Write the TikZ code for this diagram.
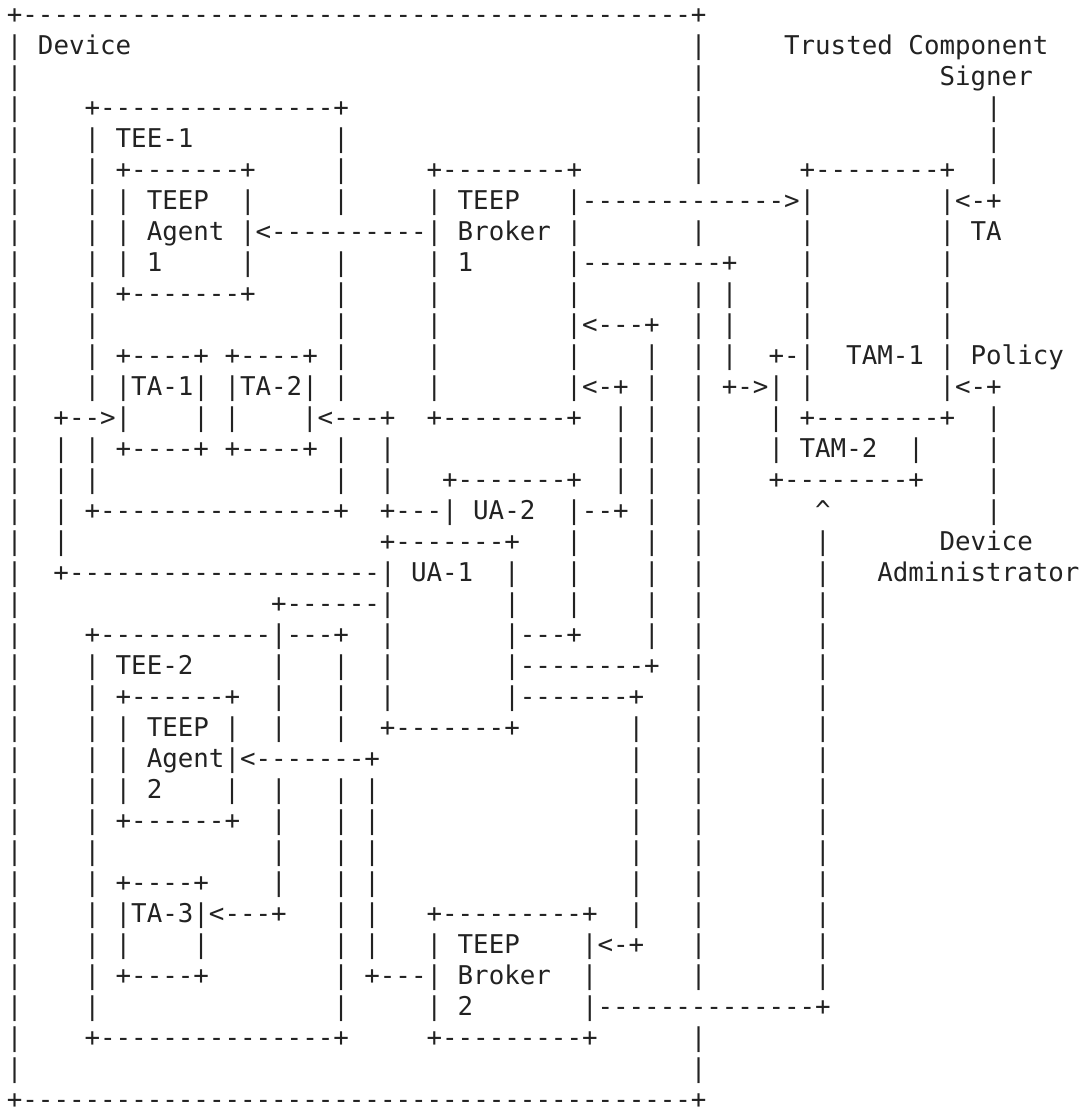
\documentclass[tikz,border=0pt]{standalone}
\usepackage{fontspec}
\setmonofont{DejaVu Sans Mono}
\definecolor{artink}{HTML}{222222}
\newlength\colw
\setlength\colw{7.8pt}
\newcommand\artfont{\ttfamily\fontsize{12.96}{15.6}\selectfont}
\newcommand\atcol[2]{\rlap{\hskip#1\colw\relax#2}}
\newcommand\dashrun[1]{\foreach\k in {1,...,#1}{-}}
\tikzset{artrow/.style={anchor=base west,inner sep=0pt,font=\artfont,text=artink}}
\begin{document}
\begin{tikzpicture}[x=7.8pt,y=-15.55pt]
\useasboundingbox (-0.3526,-0.7588) rectangle (69.135,35.222);
\node[artrow] (r0) at (0,0) {\atcol{0}{+\dashrun{43}+}};
\node[artrow] (r1) at (0,1) {\atcol{0}{| Device}\atcol{44}{|}\atcol{50}{Trusted Component}};
\node[artrow] (r2) at (0,2) {\atcol{0}{|}\atcol{44}{|}\atcol{60}{Signer}};
\node[artrow] (r3) at (0,3) {\atcol{0}{|}\atcol{5}{+\dashrun{15}+}\atcol{44}{|}\atcol{63}{|}};
\node[artrow] (r4) at (0,4) {\atcol{0}{|}\atcol{5}{| TEE-1}\atcol{21}{|}\atcol{44}{|}\atcol{63}{|}};
\node[artrow] (r5) at (0,5) {\atcol{0}{|}\atcol{5}{| +\dashrun{7}+}\atcol{21}{|}\atcol{27}{+\dashrun{8}+}\atcol{44}{|}\atcol{51}{+\dashrun{8}+}\atcol{63}{|}};
\node[artrow] (r6) at (0,6) {\atcol{0}{|}\atcol{5}{| | TEEP}\atcol{15}{|}\atcol{21}{|}\atcol{27}{| TEEP}\atcol{36}{|\dashrun{13}>|}\atcol{60}{|<-+}};
\node[artrow] (r7) at (0,7) {\atcol{0}{|}\atcol{5}{| | Agent |<\dashrun{10}| Broker |}\atcol{44}{|}\atcol{51}{|}\atcol{60}{| TA}};
\node[artrow] (r8) at (0,8) {\atcol{0}{|}\atcol{5}{| | 1}\atcol{15}{|}\atcol{21}{|}\atcol{27}{| 1}\atcol{36}{|\dashrun{9}+}\atcol{51}{|}\atcol{60}{|}};
\node[artrow] (r9) at (0,9) {\atcol{0}{|}\atcol{5}{| +\dashrun{7}+}\atcol{21}{|}\atcol{27}{|}\atcol{36}{|}\atcol{44}{| |}\atcol{51}{|}\atcol{60}{|}};
\node[artrow] (r10) at (0,10) {\atcol{0}{|}\atcol{5}{|}\atcol{21}{|}\atcol{27}{|}\atcol{36}{|<---+}\atcol{44}{| |}\atcol{51}{|}\atcol{60}{|}};
\node[artrow] (r11) at (0,11) {\atcol{0}{|}\atcol{5}{| +----+ +----+ |}\atcol{27}{|}\atcol{36}{|}\atcol{41}{|}\atcol{44}{| |}\atcol{49}{+-|}\atcol{54}{TAM-1 | Policy}};
\node[artrow] (r12) at (0,12) {\atcol{0}{|}\atcol{5}{| |TA-1| |TA-2| |}\atcol{27}{|}\atcol{36}{|<-+ |}\atcol{44}{| +->| |}\atcol{60}{|<-+}};
\node[artrow] (r13) at (0,13) {\atcol{0}{|}\atcol{3}{+-->|}\atcol{12}{| |}\atcol{19}{|<---+}\atcol{27}{+\dashrun{8}+}\atcol{39}{| |}\atcol{44}{|}\atcol{49}{| +\dashrun{8}+}\atcol{63}{|}};
\node[artrow] (r14) at (0,14) {\atcol{0}{|}\atcol{3}{| | +----+ +----+ |}\atcol{24}{|}\atcol{39}{| |}\atcol{44}{|}\atcol{49}{| TAM-2}\atcol{58}{|}\atcol{63}{|}};
\node[artrow] (r15) at (0,15) {\atcol{0}{|}\atcol{3}{| |}\atcol{21}{|}\atcol{24}{|}\atcol{28}{+\dashrun{7}+}\atcol{39}{| |}\atcol{44}{|}\atcol{49}{+\dashrun{8}+}\atcol{63}{|}};
\node[artrow] (r16) at (0,16) {\atcol{0}{|}\atcol{3}{| +\dashrun{15}+}\atcol{24}{+---| UA-2}\atcol{36}{|--+ |}\atcol{44}{|}\atcol{52}{\textasciicircum}\atcol{63}{|}};
\node[artrow] (r17) at (0,17) {\atcol{0}{|}\atcol{3}{|}\atcol{24}{+\dashrun{7}+}\atcol{36}{|}\atcol{41}{|}\atcol{44}{|}\atcol{52}{|}\atcol{60}{Device}};
\node[artrow] (r18) at (0,18) {\atcol{0}{|}\atcol{3}{+\dashrun{20}| UA-1}\atcol{32}{|}\atcol{36}{|}\atcol{41}{|}\atcol{44}{|}\atcol{52}{|}\atcol{56}{Administrator}};
\node[artrow] (r19) at (0,19) {\atcol{0}{|}\atcol{17}{+\dashrun{6}|}\atcol{32}{|}\atcol{36}{|}\atcol{41}{|}\atcol{44}{|}\atcol{52}{|}};
\node[artrow] (r20) at (0,20) {\atcol{0}{|}\atcol{5}{+\dashrun{11}|---+}\atcol{24}{|}\atcol{32}{|---+}\atcol{41}{|}\atcol{44}{|}\atcol{52}{|}};
\node[artrow] (r21) at (0,21) {\atcol{0}{|}\atcol{5}{| TEE-2}\atcol{17}{|}\atcol{21}{|}\atcol{24}{|}\atcol{32}{|\dashrun{8}+}\atcol{44}{|}\atcol{52}{|}};
\node[artrow] (r22) at (0,22) {\atcol{0}{|}\atcol{5}{| +\dashrun{6}+}\atcol{17}{|}\atcol{21}{|}\atcol{24}{|}\atcol{32}{|\dashrun{7}+}\atcol{44}{|}\atcol{52}{|}};
\node[artrow] (r23) at (0,23) {\atcol{0}{|}\atcol{5}{| | TEEP |}\atcol{17}{|}\atcol{21}{|}\atcol{24}{+\dashrun{7}+}\atcol{40}{|}\atcol{44}{|}\atcol{52}{|}};
\node[artrow] (r24) at (0,24) {\atcol{0}{|}\atcol{5}{| | Agent|<\dashrun{7}+}\atcol{40}{|}\atcol{44}{|}\atcol{52}{|}};
\node[artrow] (r25) at (0,25) {\atcol{0}{|}\atcol{5}{| | 2}\atcol{14}{|}\atcol{17}{|}\atcol{21}{| |}\atcol{40}{|}\atcol{44}{|}\atcol{52}{|}};
\node[artrow] (r26) at (0,26) {\atcol{0}{|}\atcol{5}{| +\dashrun{6}+}\atcol{17}{|}\atcol{21}{| |}\atcol{40}{|}\atcol{44}{|}\atcol{52}{|}};
\node[artrow] (r27) at (0,27) {\atcol{0}{|}\atcol{5}{|}\atcol{17}{|}\atcol{21}{| |}\atcol{40}{|}\atcol{44}{|}\atcol{52}{|}};
\node[artrow] (r28) at (0,28) {\atcol{0}{|}\atcol{5}{| +----+}\atcol{17}{|}\atcol{21}{| |}\atcol{40}{|}\atcol{44}{|}\atcol{52}{|}};
\node[artrow] (r29) at (0,29) {\atcol{0}{|}\atcol{5}{| |TA-3|<---+}\atcol{21}{| |}\atcol{27}{+\dashrun{9}+}\atcol{40}{|}\atcol{44}{|}\atcol{52}{|}};
\node[artrow] (r30) at (0,30) {\atcol{0}{|}\atcol{5}{| |}\atcol{12}{|}\atcol{21}{| |}\atcol{27}{| TEEP}\atcol{37}{|<-+}\atcol{44}{|}\atcol{52}{|}};
\node[artrow] (r31) at (0,31) {\atcol{0}{|}\atcol{5}{| +----+}\atcol{21}{| +---| Broker}\atcol{37}{|}\atcol{44}{|}\atcol{52}{|}};
\node[artrow] (r32) at (0,32) {\atcol{0}{|}\atcol{5}{|}\atcol{21}{|}\atcol{27}{| 2}\atcol{37}{|\dashrun{14}+}};
\node[artrow] (r33) at (0,33) {\atcol{0}{|}\atcol{5}{+\dashrun{15}+}\atcol{27}{+\dashrun{9}+}\atcol{44}{|}};
\node[artrow] (r34) at (0,34) {\atcol{0}{|}\atcol{44}{|}};
\node[artrow] (r35) at (0,35) {\atcol{0}{+\dashrun{43}+}};
\end{tikzpicture}
\end{document}
